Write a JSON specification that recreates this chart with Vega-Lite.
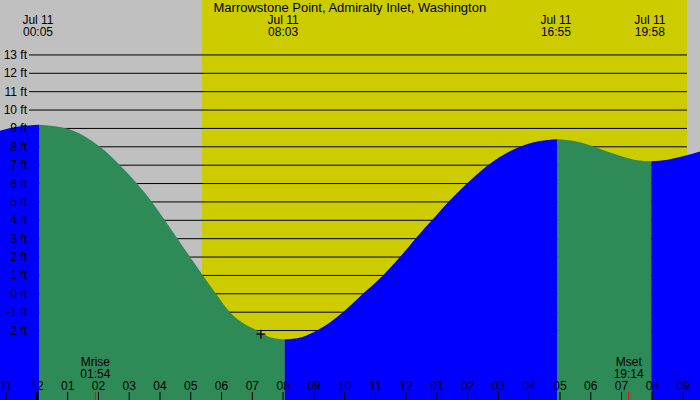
{
  "$schema": "https://vega.github.io/schema/vega-lite/v6.json",
  "width": 700,
  "height": 400,
  "autosize": "none",
  "padding": 0,
  "background": "#C0C0C0",
  "config": {
    "view": {"stroke": null},
    "font": "Liberation Sans",
    "text": {"font": "Liberation Sans", "fontSize": 12, "color": "black"}
  },
  "datasets": {
    "sun": [
      {"start": -1.2, "end": 5.366, "kind": "night"},
      {"start": 5.366, "end": 21.126, "kind": "day"},
      {"start": 21.126, "end": 21.55, "kind": "night"}
    ],
    "grid": [
      {"ft": -2, "label": "-2 ft"}, {"ft": -1, "label": "-1 ft"}, {"ft": 0, "label": "0 ft"}, {"ft": 1, "label": "1 ft"},
      {"ft": 2, "label": "2 ft"}, {"ft": 3, "label": "3 ft"}, {"ft": 4, "label": "4 ft"}, {"ft": 5, "label": "5 ft"},
      {"ft": 6, "label": "6 ft"}, {"ft": 7, "label": "7 ft"}, {"ft": 8, "label": "8 ft"}, {"ft": 9, "label": "9 ft"},
      {"ft": 10, "label": "10 ft"}, {"ft": 11, "label": "11 ft"}, {"ft": 12, "label": "12 ft"}, {"ft": 13, "label": "13 ft"}
    ],
    "hours": [
      {"t": -1, "label": "11"}, {"t": 0, "label": "12"}, {"t": 1, "label": "01"}, {"t": 2, "label": "02"},
      {"t": 3, "label": "03"}, {"t": 4, "label": "04"}, {"t": 5, "label": "05"}, {"t": 6, "label": "06"},
      {"t": 7, "label": "07"}, {"t": 8, "label": "08"}, {"t": 9, "label": "09"}, {"t": 10, "label": "10"},
      {"t": 11, "label": "11"}, {"t": 12, "label": "12"}, {"t": 13, "label": "01"}, {"t": 14, "label": "02"},
      {"t": 15, "label": "03"}, {"t": 16, "label": "04"}, {"t": 17, "label": "05"}, {"t": 18, "label": "06"},
      {"t": 19, "label": "07"}, {"t": 20, "label": "08"}, {"t": 21, "label": "09"}
    ],
    "tide": [
      {"t": -1.2, "ft": 8.88, "seg": "a", "dir": "rise"},
      {"t": -0.6, "ft": 9.1, "seg": "a", "dir": "rise"},
      {"t": 0.083, "ft": 9.2, "seg": "a", "dir": "rise"},
      {"t": 0.083, "ft": 9.2, "seg": "b", "dir": "fall"},
      {"t": 0.965, "ft": 9.0, "seg": "b", "dir": "fall"},
      {"t": 2.048, "ft": 8.0, "seg": "b", "dir": "fall"},
      {"t": 2.698, "ft": 7.0, "seg": "b", "dir": "fall"},
      {"t": 3.25, "ft": 6.0, "seg": "b", "dir": "fall"},
      {"t": 3.737, "ft": 5.0, "seg": "b", "dir": "fall"},
      {"t": 4.16, "ft": 4.0, "seg": "b", "dir": "fall"},
      {"t": 4.57, "ft": 3.0, "seg": "b", "dir": "fall"},
      {"t": 4.98, "ft": 2.0, "seg": "b", "dir": "fall"},
      {"t": 5.395, "ft": 1.0, "seg": "b", "dir": "fall"},
      {"t": 5.818, "ft": 0.0, "seg": "b", "dir": "fall"},
      {"t": 6.273, "ft": -1.0, "seg": "b", "dir": "fall"},
      {"t": 7.15, "ft": -2.0, "seg": "b", "dir": "fall"},
      {"t": 7.6, "ft": -2.375, "seg": "b", "dir": "fall"},
      {"t": 8.05, "ft": -2.48, "seg": "b", "dir": "fall"},
      {"t": 8.05, "ft": -2.48, "seg": "c", "dir": "rise"},
      {"t": 8.6, "ft": -2.36, "seg": "c", "dir": "rise"},
      {"t": 9.1, "ft": -2.0, "seg": "c", "dir": "rise"},
      {"t": 9.945, "ft": -1.0, "seg": "c", "dir": "rise"},
      {"t": 10.595, "ft": 0.0, "seg": "c", "dir": "rise"},
      {"t": 11.245, "ft": 1.0, "seg": "c", "dir": "rise"},
      {"t": 11.797, "ft": 2.0, "seg": "c", "dir": "rise"},
      {"t": 12.3, "ft": 3.0, "seg": "c", "dir": "rise"},
      {"t": 12.837, "ft": 4.0, "seg": "c", "dir": "rise"},
      {"t": 13.37, "ft": 5.0, "seg": "c", "dir": "rise"},
      {"t": 13.975, "ft": 6.0, "seg": "c", "dir": "rise"},
      {"t": 14.657, "ft": 7.0, "seg": "c", "dir": "rise"},
      {"t": 15.697, "ft": 8.0, "seg": "c", "dir": "rise"},
      {"t": 16.3, "ft": 8.3, "seg": "c", "dir": "rise"},
      {"t": 16.917, "ft": 8.41, "seg": "c", "dir": "rise"},
      {"t": 16.917, "ft": 8.41, "seg": "d", "dir": "fall"},
      {"t": 17.5, "ft": 8.3, "seg": "d", "dir": "fall"},
      {"t": 18.07, "ft": 8.03, "seg": "d", "dir": "fall"},
      {"t": 18.6, "ft": 7.7, "seg": "d", "dir": "fall"},
      {"t": 19.0, "ft": 7.48, "seg": "d", "dir": "fall"},
      {"t": 19.5, "ft": 7.27, "seg": "d", "dir": "fall"},
      {"t": 19.967, "ft": 7.21, "seg": "d", "dir": "fall"},
      {"t": 19.967, "ft": 7.21, "seg": "e", "dir": "rise"},
      {"t": 20.5, "ft": 7.3, "seg": "e", "dir": "rise"},
      {"t": 21.0, "ft": 7.48, "seg": "e", "dir": "rise"},
      {"t": 21.55, "ft": 7.74, "seg": "e", "dir": "rise"}
    ],
    "extremes": [
      {"t": 0.083, "label": "Jul 11\n00:05"},
      {"t": 8.05, "label": "Jul 11\n08:03"},
      {"t": 16.917, "label": "Jul 11\n16:55"},
      {"t": 19.967, "label": "Jul 11\n19:58"}
    ],
    "moon": [
      {"t": 1.9, "label": "Mrise\n01:54"},
      {"t": 19.233, "label": "Mset\n19:14"}
    ],
    "now": [
      {"t": 7.28, "ft": -2.2}
    ],
    "title": [
      {"t": 10.17, "label": "Marrowstone Point, Admiralty Inlet, Washington"}
    ]
  },
  "layer": [
    {
      "data": {"name": "sun"},
      "mark": {"type": "rect"},
      "encoding": {
        "x": {
          "field": "start",
          "type": "quantitative",
          "scale": {"domain": [-1.2, 21.55], "nice": false, "zero": false},
          "axis": null
        },
        "x2": {"field": "end"},
        "color": {
          "field": "kind",
          "type": "nominal",
          "scale": {"domain": ["night", "day", "rise", "fall"], "range": ["#C0C0C0", "#CCCC00", "#0000FF", "#2E8B57"]},
          "legend": null
        }
      }
    },
    {
      "data": {"name": "grid"},
      "mark": {"type": "rule", "color": "black", "strokeWidth": 1},
      "encoding": {
        "y": {
          "field": "ft",
          "type": "quantitative",
          "scale": {"domain": [-5.78, 15.99], "nice": false, "zero": false},
          "axis": null
        },
        "x": {"datum": -0.26},
        "x2": {"datum": 21.126}
      }
    },
    {
      "data": {"name": "tide"},
      "mark": {"type": "area", "interpolate": "monotone"},
      "encoding": {
        "x": {"field": "t", "type": "quantitative"},
        "y": {"field": "ft", "type": "quantitative", "stack": null},
        "y2": {"datum": -5.78},
        "color": {"field": "dir", "type": "nominal", "legend": null},
        "detail": {"field": "seg"}
      }
    },
    {
      "data": {"name": "grid"},
      "mark": {"type": "text", "align": "right", "baseline": "middle"},
      "encoding": {
        "y": {"field": "ft", "type": "quantitative"},
        "x": {"datum": -0.322},
        "text": {"field": "label"}
      }
    },
    {
      "data": {"name": "hours"},
      "mark": {"type": "rule", "color": "black", "strokeWidth": 1},
      "encoding": {
        "x": {"field": "t", "type": "quantitative"},
        "y": {"datum": -5.78},
        "y2": {"datum": -5.34}
      }
    },
    {
      "data": {"name": "hours"},
      "mark": {"type": "text", "align": "center", "baseline": "alphabetic"},
      "encoding": {
        "x": {"field": "t", "type": "quantitative"},
        "y": {"datum": -5.237},
        "text": {"field": "label"}
      }
    },
    {
      "data": {"name": "now"},
      "mark": {"type": "point", "shape": "M-1,0H1M0,-1V1", "filled": false, "stroke": "black", "strokeWidth": 1.3, "size": 81, "opacity": 1},
      "encoding": {
        "x": {"field": "t", "type": "quantitative"},
        "y": {"field": "ft", "type": "quantitative"}
      }
    },
    {
      "data": {"name": "moon"},
      "mark": {"type": "rule", "color": "#FF0000", "strokeWidth": 1},
      "encoding": {
        "x": {"field": "t", "type": "quantitative"},
        "y": {"datum": -5.78},
        "y2": {"datum": -5.34}
      }
    },
    {
      "data": {"values": [{"t": 0}]},
      "mark": {"type": "rule", "color": "black", "strokeWidth": 3},
      "encoding": {
        "x": {"field": "t", "type": "quantitative"},
        "y": {"datum": -5.78},
        "y2": {"datum": -5.34}
      }
    },
    {
      "data": {"name": "moon"},
      "mark": {"type": "text", "lineBreak": "\n", "lineHeight": 12, "baseline": "alphabetic", "align": "center"},
      "encoding": {
        "x": {"field": "t", "type": "quantitative"},
        "y": {"datum": -3.93},
        "text": {"field": "label"}
      }
    },
    {
      "data": {"name": "extremes"},
      "mark": {"type": "text", "lineBreak": "\n", "lineHeight": 12, "baseline": "alphabetic", "align": "center", "dx": -1.5},
      "encoding": {
        "x": {"field": "t", "type": "quantitative"},
        "y": {"datum": 14.69},
        "text": {"field": "label"}
      }
    },
    {
      "data": {"name": "title"},
      "mark": {"type": "text", "baseline": "alphabetic", "align": "center", "fontSize": 13},
      "encoding": {
        "x": {"field": "t", "type": "quantitative"},
        "y": {"datum": 15.34},
        "text": {"field": "label"}
      }
    }
  ]
}
